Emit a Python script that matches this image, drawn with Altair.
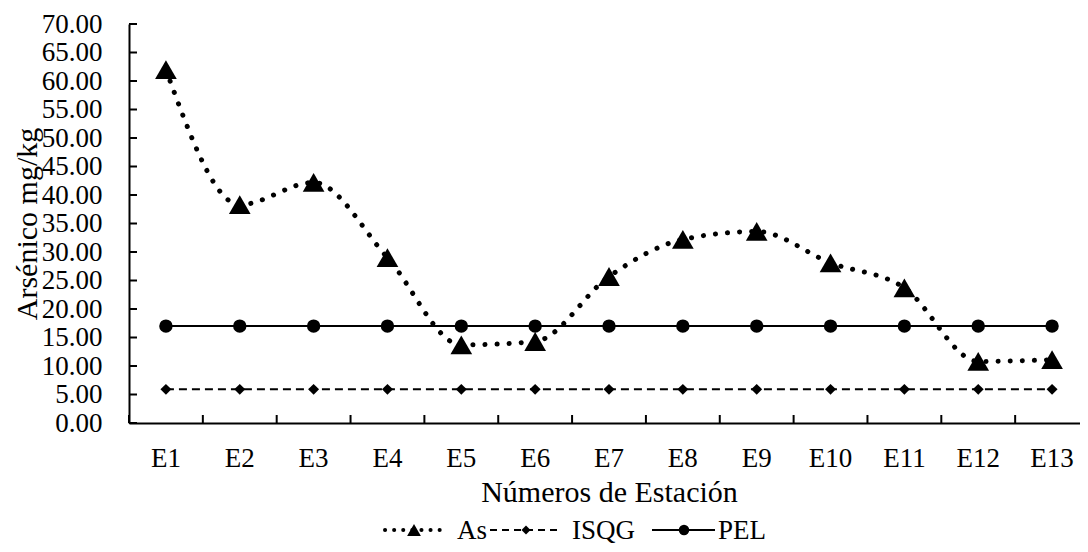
import altair as alt
import pandas as pd

# ---------------- data ----------------
stations = ["E1", "E2", "E3", "E4", "E5", "E6", "E7", "E8", "E9", "E10", "E11", "E12", "E13"]
as_values = [62.0, 38.3, 42.2, 29.0, 13.7, 14.3, 25.7, 32.2, 33.6, 28.1, 23.7, 10.8, 11.1]
isqg_values = [5.9] * 13
pel_values = [17.0] * 13
y_tick_values = [0, 5, 10, 15, 20, 25, 30, 35, 40, 45, 50, 55, 60, 65, 70]
series_names = ["As", "ISQG", "PEL"]

df = pd.DataFrame({"station": stations, "As": as_values, "ISQG": isqg_values, "PEL": pel_values})
ticks_df = pd.DataFrame({"tick": y_tick_values})
one = pd.DataFrame({"k": [0]})

FONT = "Liberation Serif"
W, H = 944, 399

yscale = alt.Scale(domain=[0, 70], nice=False, zero=True)
yaxis = alt.Axis(
    title="Arsénico mg/kg", values=y_tick_values, format=".2f", grid=False,
    ticks=False, tickSize=0, labelPadding=27, labelFontSize=27, labelFont=FONT,
    labelColor="black", domainColor="black", domainWidth=2,
    titleFont=FONT, titleFontSize=30, titleFontWeight="normal", titleColor="black",
    titleX=-93, titleY=H / 2, titleAngle=270, titleBaseline="alphabetic", titleAlign="center",
)
xscale = alt.Scale(domain=stations, range=[0, 960], paddingInner=0, paddingOuter=0)
xaxis = alt.Axis(
    title="Números de Estación", labelAngle=0, grid=False, ticks=False, tickSize=0,
    labelPadding=43, labelBaseline="alphabetic", labelFontSize=27, labelFont=FONT,
    labelColor="black", domainColor="black", domainWidth=2,
    titleFont=FONT, titleFontSize=30, titleFontWeight="normal", titleColor="black",
    titleX=480, titleY=78, titleBaseline="alphabetic", titleAlign="center",
)

X = alt.X("station:N", sort=stations, scale=xscale, axis=xaxis)
base = alt.Chart(df).encode(x=X)

pel_line = base.mark_line(color="black", strokeWidth=2).encode(
    y=alt.Y("PEL:Q", scale=yscale, axis=yaxis))
pel_pts = base.mark_point(shape="circle", filled=True, size=180, color="black", opacity=1).encode(
    y=alt.Y("PEL:Q", scale=yscale, axis=yaxis))
isqg_line = base.mark_line(color="black", strokeWidth=2, strokeDash=[8, 5]).encode(
    y=alt.Y("ISQG:Q", scale=yscale, axis=yaxis))
isqg_pts = base.mark_point(shape="diamond", filled=True, size=120, color="black", opacity=1).encode(
    y=alt.Y("ISQG:Q", scale=yscale, axis=yaxis))
as_line = base.mark_line(color="black", strokeWidth=5, strokeDash=[0.1, 12], strokeCap="round",
                         interpolate="monotone").encode(
    y=alt.Y("As:Q", scale=yscale, axis=yaxis))
as_pts = base.mark_point(shape="triangle-up", filled=True, size=470, color="black", opacity=1).encode(
    y=alt.Y("As:Q", scale=yscale, axis=yaxis))

# inward tick marks (Excel style)
y_ticks = alt.Chart(ticks_df).mark_rule(color="black", strokeWidth=2).encode(
    y=alt.Y("tick:Q", scale=yscale, axis=yaxis), x=alt.value(0), x2=alt.value(8))
x_ticks = alt.Chart(df).mark_rule(color="black", strokeWidth=2).encode(
    x=alt.X("station:N", sort=stations, scale=xscale, axis=xaxis, bandPosition=0),
    y=alt.value(H), y2=alt.value(H - 8))

# legend (drawn below the plot)
LY = 506
TY = 515
leg = [
    alt.Chart(one).mark_rule(color="black", strokeWidth=4, strokeDash=[0.1, 9], strokeCap="round").encode(
        x=alt.value(256), x2=alt.value(314), y=alt.value(LY)),
    alt.Chart(one).mark_point(shape="triangle-up", filled=True, size=190, color="black", opacity=1).encode(
        x=alt.value(285), y=alt.value(LY)),
    alt.Chart(one).mark_text(align="left", baseline="alphabetic", font=FONT, fontSize=27, color="black").encode(
        x=alt.value(328), y=alt.value(TY), text=alt.value(series_names[0])),
    alt.Chart(one).mark_rule(color="black", strokeWidth=2, strokeDash=[7, 5]).encode(
        x=alt.value(361), x2=alt.value(433), y=alt.value(LY)),
    alt.Chart(one).mark_point(shape="diamond", filled=True, size=80, color="black", opacity=1).encode(
        x=alt.value(397), y=alt.value(LY)),
    alt.Chart(one).mark_text(align="left", baseline="alphabetic", font=FONT, fontSize=27, color="black").encode(
        x=alt.value(443), y=alt.value(TY), text=alt.value(series_names[1])),
    alt.Chart(one).mark_rule(color="black", strokeWidth=2).encode(
        x=alt.value(523), x2=alt.value(586), y=alt.value(LY)),
    alt.Chart(one).mark_point(shape="circle", filled=True, size=110, color="black", opacity=1).encode(
        x=alt.value(555), y=alt.value(LY)),
    alt.Chart(one).mark_text(align="left", baseline="alphabetic", font=FONT, fontSize=27, color="black").encode(
        x=alt.value(589), y=alt.value(TY), text=alt.value(series_names[2])),
]

chart = alt.layer(
    pel_line, isqg_line, as_line, y_ticks, x_ticks, pel_pts, isqg_pts, as_pts, *leg
).properties(
    width=W, height=H,
    autosize=alt.AutoSizeParams(type="none"),
    padding={"left": 121, "top": 16, "right": 7, "bottom": 121},
    background="white",
).configure_view(stroke=None)

chart.save("out.html", embed_options={"renderer": "svg", "actions": False})
